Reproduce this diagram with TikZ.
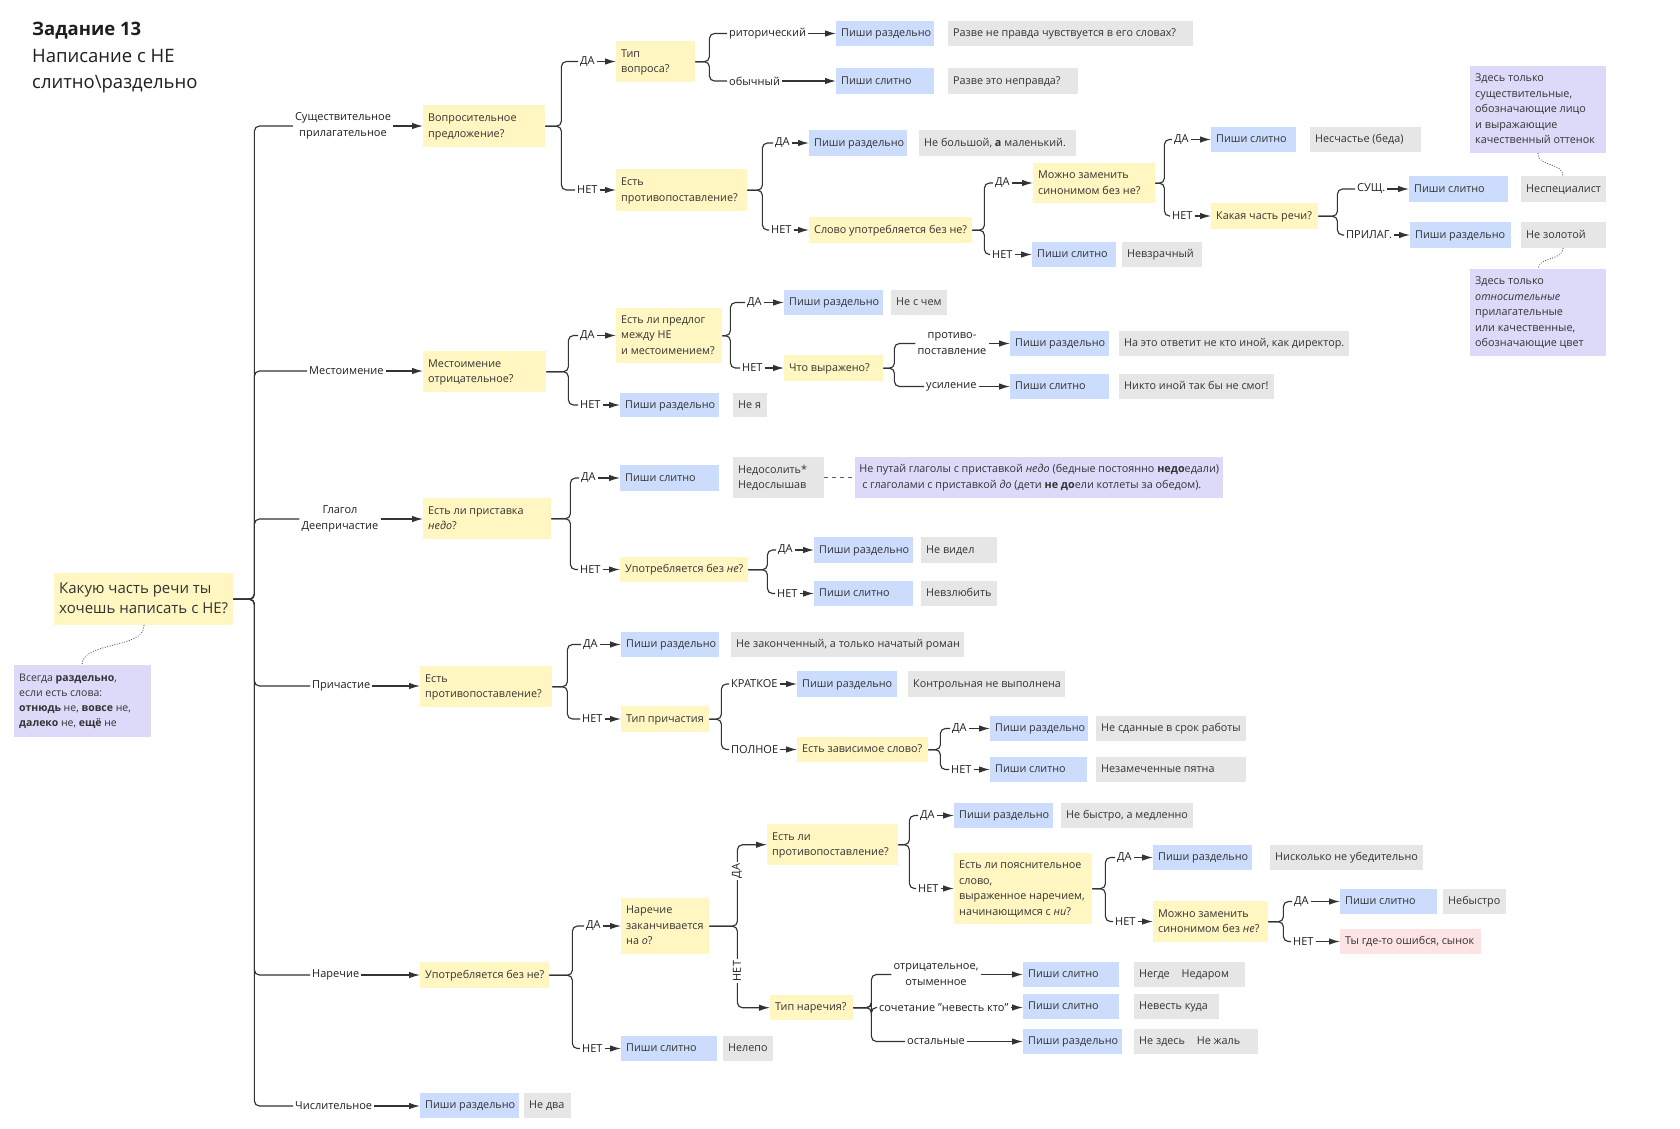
\documentclass[tikz,border=0pt]{standalone}
\usepackage{fontspec}
\setmainfont{Open Sans}
\usetikzlibrary{arrows.meta}
\definecolor{cyel}{HTML}{FFF6C2}
\definecolor{cblue}{HTML}{CCDCFC}
\definecolor{cgray}{HTML}{E6E6E6}
\definecolor{cpurp}{HTML}{DDDAF9}
\definecolor{cpink}{HTML}{FDE3E3}
\definecolor{txt}{HTML}{333333}
\definecolor{ltxt}{HTML}{1E1E1E}
\definecolor{lcol}{HTML}{333333}
\tikzset{
  base/.style={anchor=north west, inner xsep=5pt, inner ysep=0pt, font=\fontsize{10.8}{15.5}\selectfont, text=txt},
  yb/.style={base, fill=cyel},
  bb/.style={base, fill=cblue},
  gb/.style={base, fill=cgray},
  pb/.style={base, fill=cpurp},
  rb/.style={base, fill=cpink},
  lbl/.style={inner xsep=2pt, inner ysep=1pt, font=\fontsize{11}{16}\selectfont, text=ltxt},
  conn/.style={draw=lcol, line width=1.15pt, rounded corners=5pt},
  arr/.style={conn, -{Latex[length=11pt,width=6.5pt]}},
  dots/.style={draw=lcol!80, line width=1.2pt, line cap=round, dash pattern=on 0.1pt off 2.4pt},
  dashedl/.style={draw=lcol!80, line width=1pt, dash pattern=on 4pt off 4pt},
}
\newcommand\Bx[7]{%
  \pgfmathsetmacro\bxw{#5-#3-10}%
  \pgfmathsetmacro\bxh{#6-#4}%
  \node[#1,minimum height=\bxh pt] (#2) at (#3,#4) {\makebox[\bxw pt][l]{\begin{tabular}{@{}l@{}}#7\end{tabular}}};}
\newcommand\Fk[4]{%
  \draw[conn] (#1.east) -- ++(#2,0) |- (#3.west);
  \draw[arr] (#3.east) -- (#3.east -| #4.west);}
\begin{document}
\begin{tikzpicture}[x=1pt,y=-1pt]
\useasboundingbox (0,0) rectangle (1680,1128);
% title
\node[anchor=base west,inner sep=0,font=\fontsize{18.5}{26}\selectfont\bfseries,text=ltxt] (t1) at (32,35) {Задание 13};
\node[anchor=base west,inner sep=0,font=\fontsize{18.5}{26}\selectfont,text=ltxt] (t2) at (32,62) {Написание с НЕ};
\node[anchor=base west,inner sep=0,font=\fontsize{18.5}{26}\selectfont,text=ltxt] (t3) at (32,88) {слитно\textbackslash раздельно};
% root and note
\Bx{yb,font=\fontsize{15}{20}\selectfont}{R}{54}{573}{233}{625}{Какую часть речи ты\\хочешь написать с НЕ?}
\Bx{pb,font=\fontsize{10.5}{15}\selectfont}{N}{14}{665}{151}{737}{Всегда \textbf{раздельно},\\если есть слова:\\\textbf{отнюдь} не, \textbf{вовсе} не,\\\textbf{далеко} не, \textbf{ещё} не}
\draw[dots] ([xshift=90pt]R.south west) .. controls +(0,24) and +(0,-24) .. ([xshift=68pt]N.north west);
% trunk labels
\node[lbl,align=center] (lS) at (343,126) {Существительное\\прилагательное};
\node[lbl,anchor=west] (lM) at (307,371) {Местоимение};
\node[lbl,align=center] (lG) at (340,519) {Глагол\\Деепричастие};
\node[lbl,anchor=west] (lP) at (310,686) {Причастие};
\node[lbl,anchor=west] (lN) at (310,975) {Наречие};
\node[lbl,anchor=west] (lC) at (293,1106) {Числительное};
% ===== Существительное
\Bx{yb}{Q1}{423}{105}{545}{147}{Вопросительное\\предложение?}
\node[lbl,anchor=west] (q1y) at (578,61.5) {ДА};
\node[lbl,anchor=west] (q1n) at (575,190) {НЕТ};
\Bx{yb}{T1}{616}{41}{695}{82}{Тип\\вопроса?}
\Bx{yb}{P1}{616}{169}{747}{211}{Есть\\противопоставление?}
\node[lbl,anchor=west] (t1a) at (727,33.5) {риторический};
\node[lbl,anchor=west] (t1b) at (727,81) {обычный};
\Bx{bb}{B1}{836}{21}{934}{46}{Пиши раздельно}
\Bx{gb}{E1}{948}{21}{1193}{46}{Разве не правда чувствуется в его словах?}
\Bx{bb}{B2}{836}{68}{934}{94}{Пиши слитно}
\Bx{gb}{E2}{948}{68}{1078}{94}{Разве это неправда?}
\node[lbl,anchor=west] (p1y) at (773,143) {ДА};
\node[lbl,anchor=west] (p1n) at (769,230) {НЕТ};
\Bx{bb}{B3}{809}{130}{907}{156}{Пиши раздельно}
\Bx{gb}{E3}{919}{130}{1076}{156}{Не большой, \textbf{а} маленький.}
\Bx{yb}{S1}{809}{217}{972}{243}{Слово употребляется без не?}
\node[lbl,anchor=west] (s1y) at (993,183) {ДА};
\node[lbl,anchor=west] (s1n) at (990,254.5) {НЕТ};
\Bx{yb}{M1}{1033}{163}{1155}{203}{Можно заменить\\синонимом без не?}
\Bx{bb}{B4}{1032}{242}{1116}{267}{Пиши слитно}
\Bx{gb}{E4}{1122}{242}{1202}{267}{Невзрачный}
\node[lbl,anchor=west] (m1y) at (1172,139.5) {ДА};
\node[lbl,anchor=west] (m1n) at (1170,216) {НЕТ};
\Bx{bb}{B5}{1211}{127}{1296}{152}{Пиши слитно}
\Bx{gb}{E5}{1310}{127}{1421}{152}{Несчастье (беда)}
\Bx{yb}{K1}{1211}{203}{1318}{229}{Какая часть речи?}
\node[lbl,anchor=west] (k1a) at (1355,189) {СУЩ.};
\node[lbl,anchor=west] (k1b) at (1344,235) {ПРИЛАГ.};
\Bx{bb}{B6}{1409}{176}{1508}{202}{Пиши слитно}
\Bx{gb}{E6}{1521}{176}{1606}{202}{Неспециалист}
\Bx{bb}{B7}{1410}{222}{1511}{248}{Пиши раздельно}
\Bx{gb}{E7}{1521}{222}{1606}{248}{Не золотой}
\Bx{pb}{U1}{1470}{66}{1606}{153}{Здесь только\\существительные,\\обозначающие лицо\\и выражающие\\качественный оттенок}
\Bx{pb}{U2}{1470}{269}{1606}{356}{Здесь только\\\textit{относительные}\\прилагательные\\или качественные,\\обозначающие цвет}
\draw[dots] ([xshift=68pt]U1.south west) .. controls +(0,14) and +(0,-14) .. ([xshift=42pt]E6.north west);
\draw[dots] ([xshift=42pt]E7.south west) .. controls +(0,12) and +(0,-12) .. ([xshift=68pt]U2.north west);
% ===== Местоимение
\Bx{yb}{Q2}{423}{351}{546}{392}{Местоимение\\отрицательное?}
\node[lbl,anchor=west] (q2y) at (578,335.5) {ДА};
\node[lbl,anchor=west] (q2n) at (578,405) {НЕТ};
\Bx{yb}{Pr}{616}{308}{722}{363}{Есть ли предлог\\между НЕ\\и местоимением?}
\Bx{bb}{B8}{620}{393}{719}{417}{Пиши раздельно}
\Bx{gb}{E8}{733}{393}{767}{417}{Не я}
\node[lbl,anchor=west] (pry) at (745,302.5) {ДА};
\node[lbl,anchor=west] (prn) at (740,368) {НЕТ};
\Bx{bb}{B9}{784}{290}{883}{315}{Пиши раздельно}
\Bx{gb}{E9}{891}{290}{947}{315}{Не с чем}
\Bx{yb}{W1}{784}{355}{883}{381}{Что выражено?}
\node[lbl,align=center] (w1a) at (952,343.5) {противо-\\поставление};
\node[lbl,anchor=west] (w1b) at (924,386.5) {усиление};
\Bx{bb}{B10}{1010}{331}{1109}{356}{Пиши раздельно}
\Bx{gb}{E10}{1119}{331}{1349}{356}{На это ответит не кто иной, как директор.}
\Bx{bb}{B11}{1010}{374}{1109}{399}{Пиши слитно}
\Bx{gb}{E11}{1119}{374}{1274}{399}{Никто иной так бы не смог!}
% ===== Глагол
\Bx{yb}{Q3}{423}{498}{551}{539}{Есть ли приставка\\\textit{недо}?}
\node[lbl,anchor=west] (q3y) at (579,478) {ДА};
\node[lbl,anchor=west] (q3n) at (578,569.5) {НЕТ};
\Bx{bb}{B12}{620}{465}{719}{491}{Пиши слитно}
\Bx{gb}{E12}{733}{457}{824}{498}{Недосолить*\\Недослышав}
\node[pb,align=left,minimum width=368pt,minimum height=41pt,inner xsep=0pt] (V1) at (855,457) {Не путай глаголы с приставкой \textit{недо} (бедные постоянно \textbf{недо}едали)\\\hspace*{3pt}с глаголами с приставкой \textit{до} (дети \textbf{не до}ели котлеты за обедом).};
\draw[dashedl] (E12.east) -- (V1.west);
\Bx{yb}{S2}{620}{557}{748}{582}{Употребляется без \textit{не}?}
\node[lbl,anchor=west] (s2y) at (776,550) {ДА};
\node[lbl,anchor=west] (s2n) at (775,593.5) {НЕТ};
\Bx{bb}{B13}{814}{537}{913}{563}{Пиши раздельно}
\Bx{gb}{E13}{921}{537}{997}{563}{Не видел}
\Bx{bb}{B14}{814}{581}{913}{606}{Пиши слитно}
\Bx{gb}{E14}{921}{581}{997}{606}{Невзлюбить}
% ===== Причастие
\Bx{yb}{Q4}{420}{666}{552}{707}{Есть\\противопоставление?}
\node[lbl,anchor=west] (q4y) at (581,644.5) {ДА};
\node[lbl,anchor=west] (q4n) at (580,719) {НЕТ};
\Bx{bb}{B15}{621}{632}{719}{657}{Пиши раздельно}
\Bx{gb}{E15}{731}{632}{964}{657}{Не законченный, а только начатый роман}
\Bx{yb}{T2}{621}{706}{709}{732}{Тип причастия}
\node[lbl,anchor=west] (t2a) at (729,684) {КРАТКОЕ};
\node[lbl,anchor=west] (t2b) at (729,749.5) {ПОЛНОЕ};
\Bx{bb}{B16}{797}{671}{897}{697}{Пиши раздельно}
\Bx{gb}{E16}{908}{671}{1065}{697}{Контрольная не выполнена}
\Bx{yb}{Z1}{797}{737}{928}{762}{Есть зависимое слово?}
\node[lbl,anchor=west] (z1y) at (950,728.5) {ДА};
\node[lbl,anchor=west] (z1n) at (949,769.5) {НЕТ};
\Bx{bb}{B17}{990}{716}{1088}{741}{Пиши раздельно}
\Bx{gb}{E17}{1096}{716}{1246}{741}{Не сданные в срок работы}
\Bx{bb}{B18}{990}{757}{1087}{782}{Пиши слитно}
\Bx{gb}{E18}{1096}{757}{1246}{782}{Незамеченные пятна}
% ===== Наречие
\Bx{yb}{Q5}{420}{962}{549}{988}{Употребляется без не?}
\node[lbl,anchor=west] (q5y) at (584,926) {ДА};
\node[lbl,anchor=west] (q5n) at (580,1048.5) {НЕТ};
\Bx{yb}{A1}{621}{898}{709}{954}{Наречие\\заканчивается\\на \textit{о}?}
\Bx{bb}{B19}{621}{1036}{717}{1061}{Пиши слитно}
\Bx{gb}{E19}{723}{1036}{773}{1061}{Нелепо}
\Bx{yb}{C1}{767}{824}{898}{865}{Есть ли\\противопоставление?}
\Bx{yb}{T3}{770}{995}{853}{1020}{Тип наречия?}
\draw[arr] (A1.east) -- ++(28,0) |- (C1.west);
\draw[arr] (A1.east) -- ++(28,0) |- (T3.west);
\node[lbl,rotate=90,fill=white] (a1y) at (737,871) {ДА};
\node[lbl,rotate=90,fill=white] (a1n) at (737,971) {НЕТ};
\node[lbl,anchor=west] (c1y) at (918,815.5) {ДА};
\node[lbl,anchor=west] (c1n) at (916,888.5) {НЕТ};
\Bx{bb}{B20}{954}{803}{1053}{828}{Пиши раздельно}
\Bx{gb}{E20}{1061}{803}{1193}{828}{Не быстро, а медленно}
\Bx{yb}{X1}{954}{853}{1092}{924}{Есть ли пояснительное\\слово,\\выраженное наречием,\\начинающимся с \textit{ни}?}
\node[lbl,anchor=west] (x1y) at (1115,857.5) {ДА};
\node[lbl,anchor=west] (x1n) at (1113,921.5) {НЕТ};
\Bx{bb}{B21}{1153}{845}{1252}{870}{Пиши раздельно}
\Bx{gb}{E21}{1270}{845}{1423}{870}{Нисколько не убедительно}
\Bx{yb}{M2}{1153}{901}{1268}{942}{Можно заменить\\синонимом без \textit{не}?}
\node[lbl,anchor=west] (m2y) at (1292,901.5) {ДА};
\node[lbl,anchor=west] (m2n) at (1291,941.5) {НЕТ};
\Bx{bb}{B22}{1340}{889}{1437}{914}{Пиши слитно}
\Bx{gb}{E22}{1443}{889}{1506}{914}{Небыстро}
\Bx{rb}{K2}{1340}{929}{1481}{954}{Ты где-то ошибся, сынок}
\node[lbl,align=center] (t3a) at (936,974.5) {отрицательное,\\отыменное};
\node[lbl,anchor=west] (t3b) at (877,1007.5) {сочетание \char"22 невесть кто\char"22};
\node[lbl,anchor=west] (t3c) at (905,1041.5) {остальные};
\Bx{bb}{B23}{1023}{962}{1119}{987}{Пиши слитно}
\Bx{gb}{E23}{1134}{962}{1245}{987}{Негде\hspace{1.1em}Недаром}
\Bx{bb}{B24}{1023}{994}{1119}{1019}{Пиши слитно}
\Bx{gb}{E24}{1134}{994}{1219}{1019}{Невесть куда}
\Bx{bb}{B25}{1023}{1029}{1122}{1054}{Пиши раздельно}
\Bx{gb}{E25}{1134}{1029}{1258}{1054}{Не здесь\hspace{1.1em}Не жаль}
% ===== Числительное
\Bx{bb}{B26}{420}{1093}{519}{1118}{Пиши раздельно}
\Bx{gb}{E26}{524}{1093}{571}{1118}{Не два}
% ===== connectors
\Fk{R}{21}{lS}{Q1}
\Fk{R}{21}{lM}{Q2}
\Fk{R}{21}{lG}{Q3}
\Fk{R}{21}{lP}{Q4}
\Fk{R}{21}{lN}{Q5}
\Fk{R}{21}{lC}{B26}
\Fk{Q1}{16}{q1y}{T1}
\Fk{Q1}{16}{q1n}{P1}
\Fk{T1}{14}{t1a}{B1}
\Fk{T1}{14}{t1b}{B2}
\Fk{P1}{15}{p1y}{B3}
\Fk{P1}{15}{p1n}{S1}
\Fk{S1}{12}{s1y}{M1}
\Fk{S1}{12}{s1n}{B4}
\Fk{M1}{9}{m1y}{B5}
\Fk{M1}{9}{m1n}{K1}
\Fk{K1}{19}{k1a}{B6}
\Fk{K1}{19}{k1b}{B7}
\Fk{Q2}{22}{q2y}{Pr}
\Fk{Q2}{22}{q2n}{B8}
\Fk{Pr}{8}{pry}{B9}
\Fk{Pr}{8}{prn}{W1}
\Fk{W1}{11}{w1a}{B10}
\Fk{W1}{11}{w1b}{B11}
\Fk{Q3}{19}{q3y}{B12}
\Fk{Q3}{19}{q3n}{S2}
\Fk{S2}{19}{s2y}{B13}
\Fk{S2}{19}{s2n}{B14}
\Fk{Q4}{15}{q4y}{B15}
\Fk{Q4}{15}{q4n}{T2}
\Fk{T2}{12}{t2a}{B16}
\Fk{T2}{12}{t2b}{Z1}
\Fk{Z1}{12}{z1y}{B17}
\Fk{Z1}{12}{z1n}{B18}
\Fk{Q5}{23}{q5y}{A1}
\Fk{Q5}{23}{q5n}{B19}
\Fk{C1}{11}{c1y}{B20}
\Fk{C1}{11}{c1n}{X1}
\Fk{X1}{13}{x1y}{B21}
\Fk{X1}{13}{x1n}{M2}
\Fk{M2}{15}{m2y}{B22}
\Fk{M2}{15}{m2n}{K2}
\Fk{T3}{18}{t3a}{B23}
\Fk{T3}{18}{t3b}{B24}
\Fk{T3}{18}{t3c}{B25}
\end{tikzpicture}
\end{document}
